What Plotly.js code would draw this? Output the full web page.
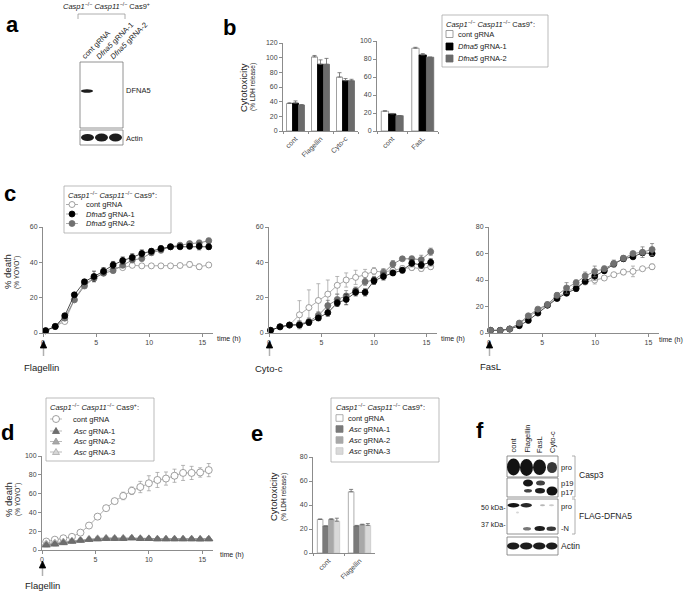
<!DOCTYPE html>
<html><head><meta charset="utf-8">
<script src="https://cdn.plot.ly/plotly-3.0.1.min.js"></script>
<style>html,body{margin:0;padding:0;background:#fff}#chart{width:685px;height:591px}</style>
</head><body><div id="chart"></div>
<script>
// ---------------- DATA ----------------
const legendHeader = '<i>Casp1</i><sup>−/−</sup> <i>Casp11</i><sup>−/−</sup> Cas9<sup>+</sup>:';
const dfnaLabels = ['cont gRNA', '<i>Dfna5</i> gRNA-1', '<i>Dfna5</i> gRNA-2'];
const ascLabels = ['cont gRNA', '<i>Asc</i> gRNA-1', '<i>Asc</i> gRNA-2', '<i>Asc</i> gRNA-3'];

// panel b
const bCatsL = ['cont', 'Flagellin', 'Cyto-c'];
const bContL = [37.5, 101, 73.5], bContLErr = [1, 2, 6];
const bG1L = [38, 91, 68.5], bG1LErr = [3, 6, 3];
const bG2L = [35.5, 91, 68.5], bG2LErr = [0.5, 8, 2];
const bCatsR = ['cont', 'FasL'];
const bContR = [22, 92], bContRErr = [0.5, 1];
const bG1R = [19, 84.5], bG1RErr = [0.5, 1.5];
const bG2R = [17, 82], bG2RErr = [0, 0];

// panel c1 (Flagellin)
const c1T = [0.25, 1.15, 2.05, 2.95, 3.9, 4.8, 5.7, 6.6, 7.5, 8.4, 9.3, 10.2, 11.1, 12.0, 12.9, 13.8, 14.7, 15.6];
const c1Cont = [1.3, 3.7, 6.5, 18.8, 27.8, 31, 34, 37, 37, 38.3, 38, 38, 38, 38, 38.2, 38.8, 37.5, 38.5];
const c1ContErr = [0.3, 0.5, 1, 1, 1, 1, 1, 1, 1, 1, 1, 1, 1, 1, 1, 1.5, 1.5, 1];
const c1G1 = [1.3, 3.7, 9.8, 21.6, 29, 32, 35, 38.5, 41, 42.8, 45, 46.3, 47.8, 48.8, 48.8, 49.1, 49.1, 48.8];
const c1G1Err = [0.3, 0.5, 1, 1, 1, 3, 2, 2, 2, 2, 2, 1.5, 1.5, 1, 1, 1.5, 2, 1.5];
const c1G2 = [1.3, 3.7, 8.4, 18.8, 26.6, 31, 33.8, 35.3, 38.3, 41.3, 42.2, 45.4, 46.9, 48.8, 49.7, 50.6, 51, 52.2];
const c1G2Err = [0.3, 0.5, 1, 1, 1, 1, 1, 1, 1, 1, 1.5, 1.5, 1.5, 1.5, 1, 1, 1.5, 1.5];

// panel c2 (Cyto-c)
const c2T = [0.15, 1.05, 1.95, 2.9, 3.8, 4.7, 5.6, 6.5, 7.35, 8.25, 9.15, 10.0, 10.9, 11.8, 12.7, 13.6, 14.5, 15.4];
const c2Cont = [1.5, 3.5, 4.5, 10.3, 14.4, 18.4, 22, 27, 30, 31.5, 33, 35, 34.5, 35.5, 36.5, 37, 36.5, 37.5];
const c2ContErr = [0.5, 1, 1, 8, 10, 9.5, 8, 5, 4, 4, 3, 2, 2, 1.5, 1.5, 1.5, 1.5, 1.5];
const c2G1 = [1.5, 3.5, 4.5, 4.5, 6, 8.5, 11.5, 17, 19, 23, 23, 29.5, 32, 34, 35.5, 39.5, 38.5, 40];
const c2G1Err = [0.5, 1, 1, 1.5, 1.5, 1.5, 2, 2, 3, 2, 2, 2, 2, 1.5, 1.5, 2, 2, 2];
const c2G2 = [1.5, 3.5, 4.5, 5, 6.5, 10, 15.5, 19, 21, 24, 29, 30, 34, 39, 42, 42, 41.5, 46];
const c2G2Err = [0.5, 1, 1, 2, 2, 2, 3, 3, 3, 2, 2, 2, 2, 2, 1, 1.5, 2.5, 2];

// panel c3 (FasL)
const c3T = [0.15, 1.05, 1.95, 2.85, 3.7, 4.6, 5.5, 6.4, 7.3, 8.2, 9.05, 9.95, 10.85, 11.75, 12.65, 13.55, 14.45, 15.35];
const c3Cont = [2, 2, 3, 7, 12, 17, 21, 27, 31, 35, 38.5, 40, 41.5, 44, 46, 46.5, 48.5, 50];
const c3ContErr = [0.5, 0.5, 0.5, 1, 1, 1, 1, 1, 1, 2, 2, 3, 1, 1, 2, 4, 1, 2];
const c3G1 = [2, 2, 3, 5.5, 9.5, 15, 21, 26, 30, 33.5, 39, 43, 47, 52, 56, 57.5, 60.5, 60];
const c3G1Err = [0.5, 0.5, 0.5, 1, 1, 1, 1, 1, 1, 2, 2, 3, 2, 2, 2, 1.5, 1.5, 2];
const c3G2 = [2, 2, 3, 7.5, 13, 18, 21.5, 28.5, 34, 38, 43, 46.5, 48.5, 52.5, 56.5, 60, 61, 63];
const c3G2Err = [0.5, 0.5, 0.5, 1, 1, 1, 2, 2, 4, 2, 3, 4, 2, 2.5, 2, 1.5, 4, 4.5];

// panel d (Flagellin, Asc)
const dT = [0.4, 1.2, 2.0, 2.8, 3.6, 4.4, 5.2, 6.0, 6.8, 7.6, 8.4, 9.2, 10.0, 10.8, 11.6, 12.4, 13.2, 14.0, 14.8, 15.6];
const dCont = [9, 11, 12.5, 14, 18.5, 26, 35.5, 44.5, 52, 57.5, 63, 67, 71, 74.5, 76, 79, 82, 82, 82.5, 85];
const dContErr = [1.5, 1.5, 1.5, 1.5, 1.5, 1.5, 1.5, 2, 2, 4, 4, 6, 8, 8, 7, 7, 8, 7, 5, 7];
const dA1 = [5, 6, 7.5, 9, 10, 11, 11.5, 12, 12, 12, 12.5, 12, 12, 11.5, 11.5, 11.5, 11.5, 11.5, 11.5, 11.5];
const dA2 = [6, 7, 8.5, 9.5, 10.5, 11.5, 12, 12.5, 12.5, 12.5, 13, 12.5, 12, 12, 12, 12, 12, 12, 11.5, 12];
const dA3 = [7, 8, 9, 10, 11, 12, 12.5, 13, 13, 13, 13, 12.5, 12.5, 12, 12, 12, 12, 12, 12, 12];
const dAErr = [1.5, 1.5, 1.5, 1.5, 1.5, 1.5, 1.5, 1.5, 1.5, 1.5, 1.5, 1.5, 1.5, 1.5, 1.5, 1.5, 1.5, 1.5, 1.5, 1.5];

// panel e
const eCats = ['cont', 'Flagellin'];
const eCont = [28, 51], eContErr = [0.3, 2];
const eA1 = [22.5, 22.5], eA1Err = [0, 0.5];
const eA2 = [28, 23.5], eA2Err = [0.5, 0.5];
const eA3 = [26.5, 23], eA3Err = [2.5, 1.5];

// stimulus labels
const stimC = ['Flagellin', 'Cyto-c', 'FasL'];
const laneA = ['cont gRNA', '<i>Dfna5</i> gRNA-1', '<i>Dfna5</i> gRNA-2'];
const laneF = ['cont', 'Flagellin', 'FasL', 'Cyto-c'];

// ---------------- HELPERS ----------------
const W = 685, H = 591;
const px = x => x / W, py = y => 1 - y / H;
const FONT = '"Liberation Sans", Arial, sans-serif';
const AXC = '#8c8c8c';
const zeros = n => new Array(n).fill(0);

function xax(a, b, anchor, extra) {
  return Object.assign({domain: [px(a), px(b)], anchor, showline: true, linecolor: AXC, linewidth: 1,
    ticks: 'outside', ticklen: 3, tickwidth: 1, tickcolor: AXC, showgrid: false, zeroline: false,
    tickfont: {family: FONT, size: 7, color: '#444'}, fixedrange: true}, extra);
}
function yax(top, bottom, anchor, extra) {
  return Object.assign({domain: [py(bottom), py(top)], anchor, showline: true, linecolor: AXC, linewidth: 1,
    ticks: 'outside', ticklen: 3, tickwidth: 1, tickcolor: AXC, showgrid: false, zeroline: false,
    tickfont: {family: FONT, size: 7, color: '#444'}, fixedrange: true}, extra);
}
function bar(x, y, err, xa, ya, fill, line) {
  return {type: 'bar', x, y, xaxis: xa, yaxis: ya, showlegend: false,
    marker: {color: fill, line: {color: line, width: 0.8}},
    error_y: {type: 'data', array: err, arrayminus: zeros(err.length), symmetric: false,
      color: '#666', thickness: 0.8, width: 2}};
}
function ser(x, y, err, xa, ya, sym, fill, edge, lineC, size) {
  return {type: 'scatter', mode: 'lines+markers', x, y, xaxis: xa, yaxis: ya, showlegend: false,
    cliponaxis: false,
    line: {color: lineC, width: 0.8},
    marker: {symbol: sym, size: size || 6, color: fill, line: {color: edge, width: 0.8}},
    error_y: {type: 'data', array: err, color: lineC, thickness: 0.7, width: 2}};
}
const shapes = [];
const anns = [];
function rect(x0, y0, x1, y1, fill, line, lw) {
  shapes.push({type: 'rect', xref: 'paper', yref: 'paper', x0: px(x0), x1: px(x1), y0: py(y1), y1: py(y0),
    fillcolor: fill || 'rgba(0,0,0,0)', line: {color: line || 'rgba(0,0,0,0)', width: lw === undefined ? 0.8 : lw}});
}
function ell(x0, y0, x1, y1, fill, op) {
  shapes.push({type: 'circle', xref: 'paper', yref: 'paper', x0: px(x0), x1: px(x1), y0: py(y1), y1: py(y0),
    fillcolor: fill, opacity: op === undefined ? 1 : op, line: {width: 0}});
}
function seg(x0, y0, x1, y1, color, w) {
  shapes.push({type: 'line', xref: 'paper', yref: 'paper', x0: px(x0), x1: px(x1), y0: py(y0), y1: py(y1),
    line: {color: color, width: w || 0.8}});
}
function pth(pts, fill, line, close) {
  let d = pts.map((p, i) => (i ? 'L' : 'M') + px(p[0]) + ',' + py(p[1])).join(' ') + (close ? ' Z' : '');
  shapes.push({type: 'path', xref: 'paper', yref: 'paper', path: d,
    fillcolor: fill || 'rgba(0,0,0,0)', line: {color: line || 'rgba(0,0,0,0)', width: 0.8}});
}
function T(text, x, y, o) {
  o = o || {};
  anns.push({xref: 'paper', yref: 'paper', x: px(x), y: py(y), text, showarrow: false,
    font: {family: FONT, size: o.size || 7.5, color: o.color || '#222'},
    xanchor: o.xa || 'left', yanchor: o.ya || 'middle', textangle: o.angle || 0, borderpad: 0});
}
// stimulus arrow below a time-course plot, at the pixel x of time 0
function stimArrow(x, yTop) {
  seg(x, yTop + 5, x, yTop + 15, '#b0b0b0', 1.5);
  pth([[x, yTop], [x - 3.2, yTop + 7], [x + 3.2, yTop + 7]], '#000', '#000', true);
}

// ---------------- TRACES ----------------
const data = [];
data.push(bar(bCatsL, bContL, bContLErr, 'x', 'y', '#fff', '#888'));
data.push(bar(bCatsL, bG1L, bG1LErr, 'x', 'y', '#000', '#000'));
data.push(bar(bCatsL, bG2L, bG2LErr, 'x', 'y', '#6b6b6b', '#6b6b6b'));
data.push(bar(bCatsR, bContR, bContRErr, 'x2', 'y2', '#fff', '#888'));
data.push(bar(bCatsR, bG1R, bG1RErr, 'x2', 'y2', '#000', '#000'));
data.push(bar(bCatsR, bG2R, bG2RErr, 'x2', 'y2', '#6b6b6b', '#6b6b6b'));
data.push(ser(c1T, c1Cont, c1ContErr, 'x3', 'y3', 'circle', '#fff', '#888', '#999'));
data.push(ser(c1T, c1G2, c1G2Err, 'x3', 'y3', 'circle', '#707070', '#707070', '#707070'));
data.push(ser(c1T, c1G1, c1G1Err, 'x3', 'y3', 'circle', '#000', '#000', '#222'));
data.push(ser(c2T, c2Cont, c2ContErr, 'x4', 'y4', 'circle', '#fff', '#888', '#999'));
data.push(ser(c2T, c2G2, c2G2Err, 'x4', 'y4', 'circle', '#707070', '#707070', '#707070'));
data.push(ser(c2T, c2G1, c2G1Err, 'x4', 'y4', 'circle', '#000', '#000', '#222'));
data.push(ser(c3T, c3Cont, c3ContErr, 'x5', 'y5', 'circle', '#fff', '#888', '#999'));
data.push(ser(c3T, c3G1, c3G1Err, 'x5', 'y5', 'circle', '#000', '#000', '#222'));
data.push(ser(c3T, c3G2, c3G2Err, 'x5', 'y5', 'circle', '#707070', '#707070', '#707070'));
data.push(ser(dT, dCont, dContErr, 'x6', 'y6', 'circle', '#fff', '#888', '#999', 7));
data.push(ser(dT, dA3, dAErr, 'x6', 'y6', 'triangle-up', '#d6d6d6', '#aaa', '#aaa', 7));
data.push(ser(dT, dA2, dAErr, 'x6', 'y6', 'triangle-up', '#a8a8a8', '#999', '#999', 7));
data.push(ser(dT, dA1, dAErr, 'x6', 'y6', 'triangle-up', '#6e6e6e', '#666', '#777', 7));
data.push(bar(eCats, eCont, eContErr, 'x7', 'y7', '#fff', '#999'));
data.push(bar(eCats, eA1, eA1Err, 'x7', 'y7', '#7a7a7a', '#7a7a7a'));
data.push(bar(eCats, eA2, eA2Err, 'x7', 'y7', '#a8a8a8', '#a8a8a8'));
data.push(bar(eCats, eA3, eA3Err, 'x7', 'y7', '#d9d9d9', '#c8c8c8'));

// ---------------- LAYOUT ----------------
const catX = {tickangle: -45, tickson: 'boundaries', ticklen: 2};
const tX = {range: [0, 16], tickvals: [0, 5, 10, 15]};
const layout = {
  width: W, height: H, margin: {l: 0, r: 0, t: 0, b: 0}, paper_bgcolor: '#fff', plot_bgcolor: 'rgba(0,0,0,0)',
  barmode: 'group', bargap: 0.28, bargroupgap: 0, showlegend: false, font: {family: FONT, size: 7.5},
  xaxis: xax(283, 358, 'y', catX),
  yaxis: yax(43, 131, 'x', {range: [0, 120], dtick: 20}),
  xaxis2: xax(377, 438, 'y2', catX),
  yaxis2: yax(41, 131, 'x2', {range: [0, 100], dtick: 20}),
  xaxis3: xax(43, 213, 'y3', tX),
  yaxis3: yax(227, 333, 'x3', {range: [0, 60], dtick: 20}),
  xaxis4: xax(269, 437, 'y4', tX),
  yaxis4: yax(227, 333, 'x4', {range: [0, 60], dtick: 20}),
  xaxis5: xax(489, 659, 'y5', tX),
  yaxis5: yax(227, 333, 'x5', {range: [0, 80], dtick: 20}),
  xaxis6: xax(42, 213, 'y6', tX),
  yaxis6: yax(456, 550, 'x6', {range: [0, 100], dtick: 20}),
  xaxis7: xax(313, 375, 'y7', catX),
  yaxis7: yax(457, 553, 'x7', {range: [0, 80], dtick: 20}),
};

// ---------------- ANNOTATIONS / DECOR ----------------
[['<b>a</b>', 12, 25], ['<b>b</b>', 230, 27], ['<b>c</b>', 10, 193], ['<b>d</b>', 8, 432], ['<b>e</b>', 257, 433], ['<b>f</b>', 480, 430]]
  .forEach(l => T(l[0], l[1], l[2], {size: 22, color: '#000', xa: 'center'}));

// panel a: blot
T(legendHeader.replace(':', ''), 62, 6, {size: 7.5});
pth([[78, 19], [78, 14], [125, 14], [125, 19]], null, '#999');
T(laneA[0], 79, 62, {angle: -45, ya: 'bottom', size: 7.5});
T(laneA[1], 93, 62, {angle: -45, ya: 'bottom', size: 7.5});
T(laneA[2], 107, 62, {angle: -45, ya: 'bottom', size: 7.5});
rect(80, 62, 123, 128, '#fff', '#777');
ell(81, 89.3, 93, 92.7, '#111', 0.95);
rect(80, 130, 123, 145, '#fff', '#777');
ell(81, 134, 94, 141, '#111', 0.95);
ell(95, 133.5, 108, 141.5, '#111', 0.95);
ell(109, 133.5, 122, 141.5, '#111', 0.95);
T('DFNA5', 125, 91);
T('Actin', 125, 138);

// panel b labels + legend
T('Cytotoxicity', 243, 87, {angle: -90, xa: 'center', size: 9.5});
T('(% LDH release)', 253, 87, {angle: -90, xa: 'center', size: 6.5});
rect(442, 15, 548, 67, '#fff', '#aaa');
T(legendHeader, 445, 24);
const bLegFill = ['#fff', '#000', '#6b6b6b'], bLegLine = ['#888', '#000', '#6b6b6b'];
[34, 46.5, 58.5].forEach((yy, i) => {
  rect(446, yy - 3.5, 453, yy + 3.5, bLegFill[i], bLegLine[i]);
  T(dfnaLabels[i], 457, yy);
});

// panel c
T('% death', 7, 272, {angle: -90, xa: 'center', size: 9.5});
T('(% YOYO<sup>+</sup>)', 16, 272, {angle: -90, xa: 'center', size: 6.5});
rect(64, 186, 171, 233, '#fff', '#aaa');
T(legendHeader, 67, 194.5);
const cSymFill = ['#fff', '#000', '#707070'], cSymEdge = ['#888', '#000', '#707070'];
[204.5, 214, 223.5].forEach((yy, i) => {
  seg(66, yy, 78, yy, '#999', 0.8);
  shapes.push({type: 'circle', xref: 'paper', yref: 'paper', x0: px(69), x1: px(75), y0: py(yy + 3), y1: py(yy - 3),
    fillcolor: cSymFill[i], line: {color: cSymEdge[i], width: 0.8}});
  T(dfnaLabels[i], 85, yy);
});
T('time (h)', 216, 339, {size: 7});
T('time (h)', 440, 339, {size: 7});
T('time (h)', 684, 340, {size: 7, xa: 'right'});
stimArrow(43.5, 341);
stimArrow(269.5, 341);
stimArrow(489.5, 341);
T(stimC[0], 41, 367, {xa: 'center', size: 9.5});
T(stimC[1], 269, 368, {xa: 'center', size: 9.5});
T(stimC[2], 491, 366, {xa: 'center', size: 9.5});

// panel d
T('% death', 8, 500, {angle: -90, xa: 'center', size: 9.5});
T('(% YOYO<sup>+</sup>)', 17, 500, {angle: -90, xa: 'center', size: 6.5});
rect(46, 398, 154, 461, '#fff', '#aaa');
T(legendHeader, 49, 407);
const dSymFill = ['#fff', '#6e6e6e', '#a8a8a8', '#d6d6d6'], dSymEdge = ['#888', '#666', '#999', '#aaa'];
[419, 431, 441.5, 452].forEach((yy, i) => {
  seg(50, yy, 62, yy, '#aaa', 0.8);
  if (i === 0) {
    shapes.push({type: 'circle', xref: 'paper', yref: 'paper', x0: px(52.5), x1: px(59.5), y0: py(yy + 3.5), y1: py(yy - 3.5),
      fillcolor: dSymFill[0], line: {color: dSymEdge[0], width: 0.8}});
  } else {
    pth([[56, yy - 3.5], [52.5, yy + 2.5], [59.5, yy + 2.5]], dSymFill[i], dSymEdge[i], true);
  }
  T(ascLabels[i], 72, yy);
});
T('time (h)', 219, 555, {size: 7});
stimArrow(42.5, 561);
T(stimC[0], 42, 585, {xa: 'center', size: 9.5});

// panel e
T('Cytotoxicity', 273, 497, {angle: -90, xa: 'center', size: 9.5});
T('(% LDH release)', 284, 497, {angle: -90, xa: 'center', size: 6.5});
rect(331, 398, 439, 462, '#fff', '#aaa');
T(legendHeader, 335, 407);
const eLegFill = ['#fff', '#7a7a7a', '#a8a8a8', '#d9d9d9'], eLegLine = ['#999', '#7a7a7a', '#a8a8a8', '#c8c8c8'];
[418, 429, 440, 451].forEach((yy, i) => {
  rect(336, yy - 3.3, 343, yy + 3.3, eLegFill[i], eLegLine[i]);
  T(ascLabels[i], 347, yy);
});

// panel f: blots
const laneXF = [513, 526.5, 539.5, 552];
laneF.forEach((t, i) => T(t, laneXF[i], 454, {angle: -90, xa: 'center', ya: 'bottom', size: 7.5}));
rect(507, 456, 558, 477, '#fff', '#777');
ell(507, 458.5, 520, 475.5, '#0a0a0a', 0.97);
ell(520, 459, 533, 476, '#0a0a0a', 0.97);
ell(533, 459.5, 546, 475, '#0a0a0a', 0.95);
ell(547, 462, 557, 473, '#222', 0.9);
rect(507, 478, 558, 497, '#fff', '#777');
ell(523, 479.5, 533, 486.5, '#0a0a0a', 0.95);
ell(536, 480.5, 545, 485.5, '#222', 0.85);
ell(524, 489, 532, 492.5, '#222', 0.85);
ell(535, 488, 545, 493.5, '#111', 0.95);
ell(546.5, 486.5, 557.5, 495.5, '#0a0a0a', 0.97);
rect(507, 499, 558, 534, '#fff', '#777');
ell(507.5, 503, 519.5, 507.5, '#0a0a0a', 0.95);
ell(520.5, 503, 532, 507.5, '#111', 0.9);
ell(540, 504.3, 545, 506.3, '#999', 0.7);
ell(549, 504.3, 554, 506.3, '#aaa', 0.6);
ell(516, 511.5, 519, 513.5, '#bbb', 0.6);
ell(523, 527, 531, 530.5, '#555', 0.8);
ell(534.5, 526, 545, 531, '#111', 0.95);
ell(546.5, 526.5, 556, 531, '#222', 0.9);
rect(507, 537, 558, 555, '#fff', '#777');
ell(507, 542.5, 519.5, 549.5, '#111', 0.95);
ell(520, 542.5, 532.5, 549.5, '#111', 0.95);
ell(533, 542.5, 545.5, 549.5, '#111', 0.95);
ell(546, 542.5, 557.5, 549.5, '#111', 0.95);
T('pro', 560, 467, {size: 7.5});
T('p19', 560, 483, {size: 7.5});
T('p17', 560, 492, {size: 7.5});
T('pro', 560, 506, {size: 7.5});
T('-N', 560, 528, {size: 7.5});
T('Actin', 560, 546, {size: 8.5});
pth([[572, 456], [575, 456], [575, 497], [572, 497]], null, '#999');
pth([[572, 499], [575, 499], [575, 534], [572, 534]], null, '#999');
T('Casp3', 578, 475, {size: 8.5});
T('FLAG-DFNA5', 578, 516, {size: 8.5});
T('50 kDa-', 507, 507, {xa: 'right', size: 7});
T('37 kDa-', 507, 524, {xa: 'right', size: 7});

layout.shapes = shapes;
layout.annotations = anns;
Plotly.newPlot('chart', data, layout, {displayModeBar: false, staticPlot: true});
</script>
</body></html>
